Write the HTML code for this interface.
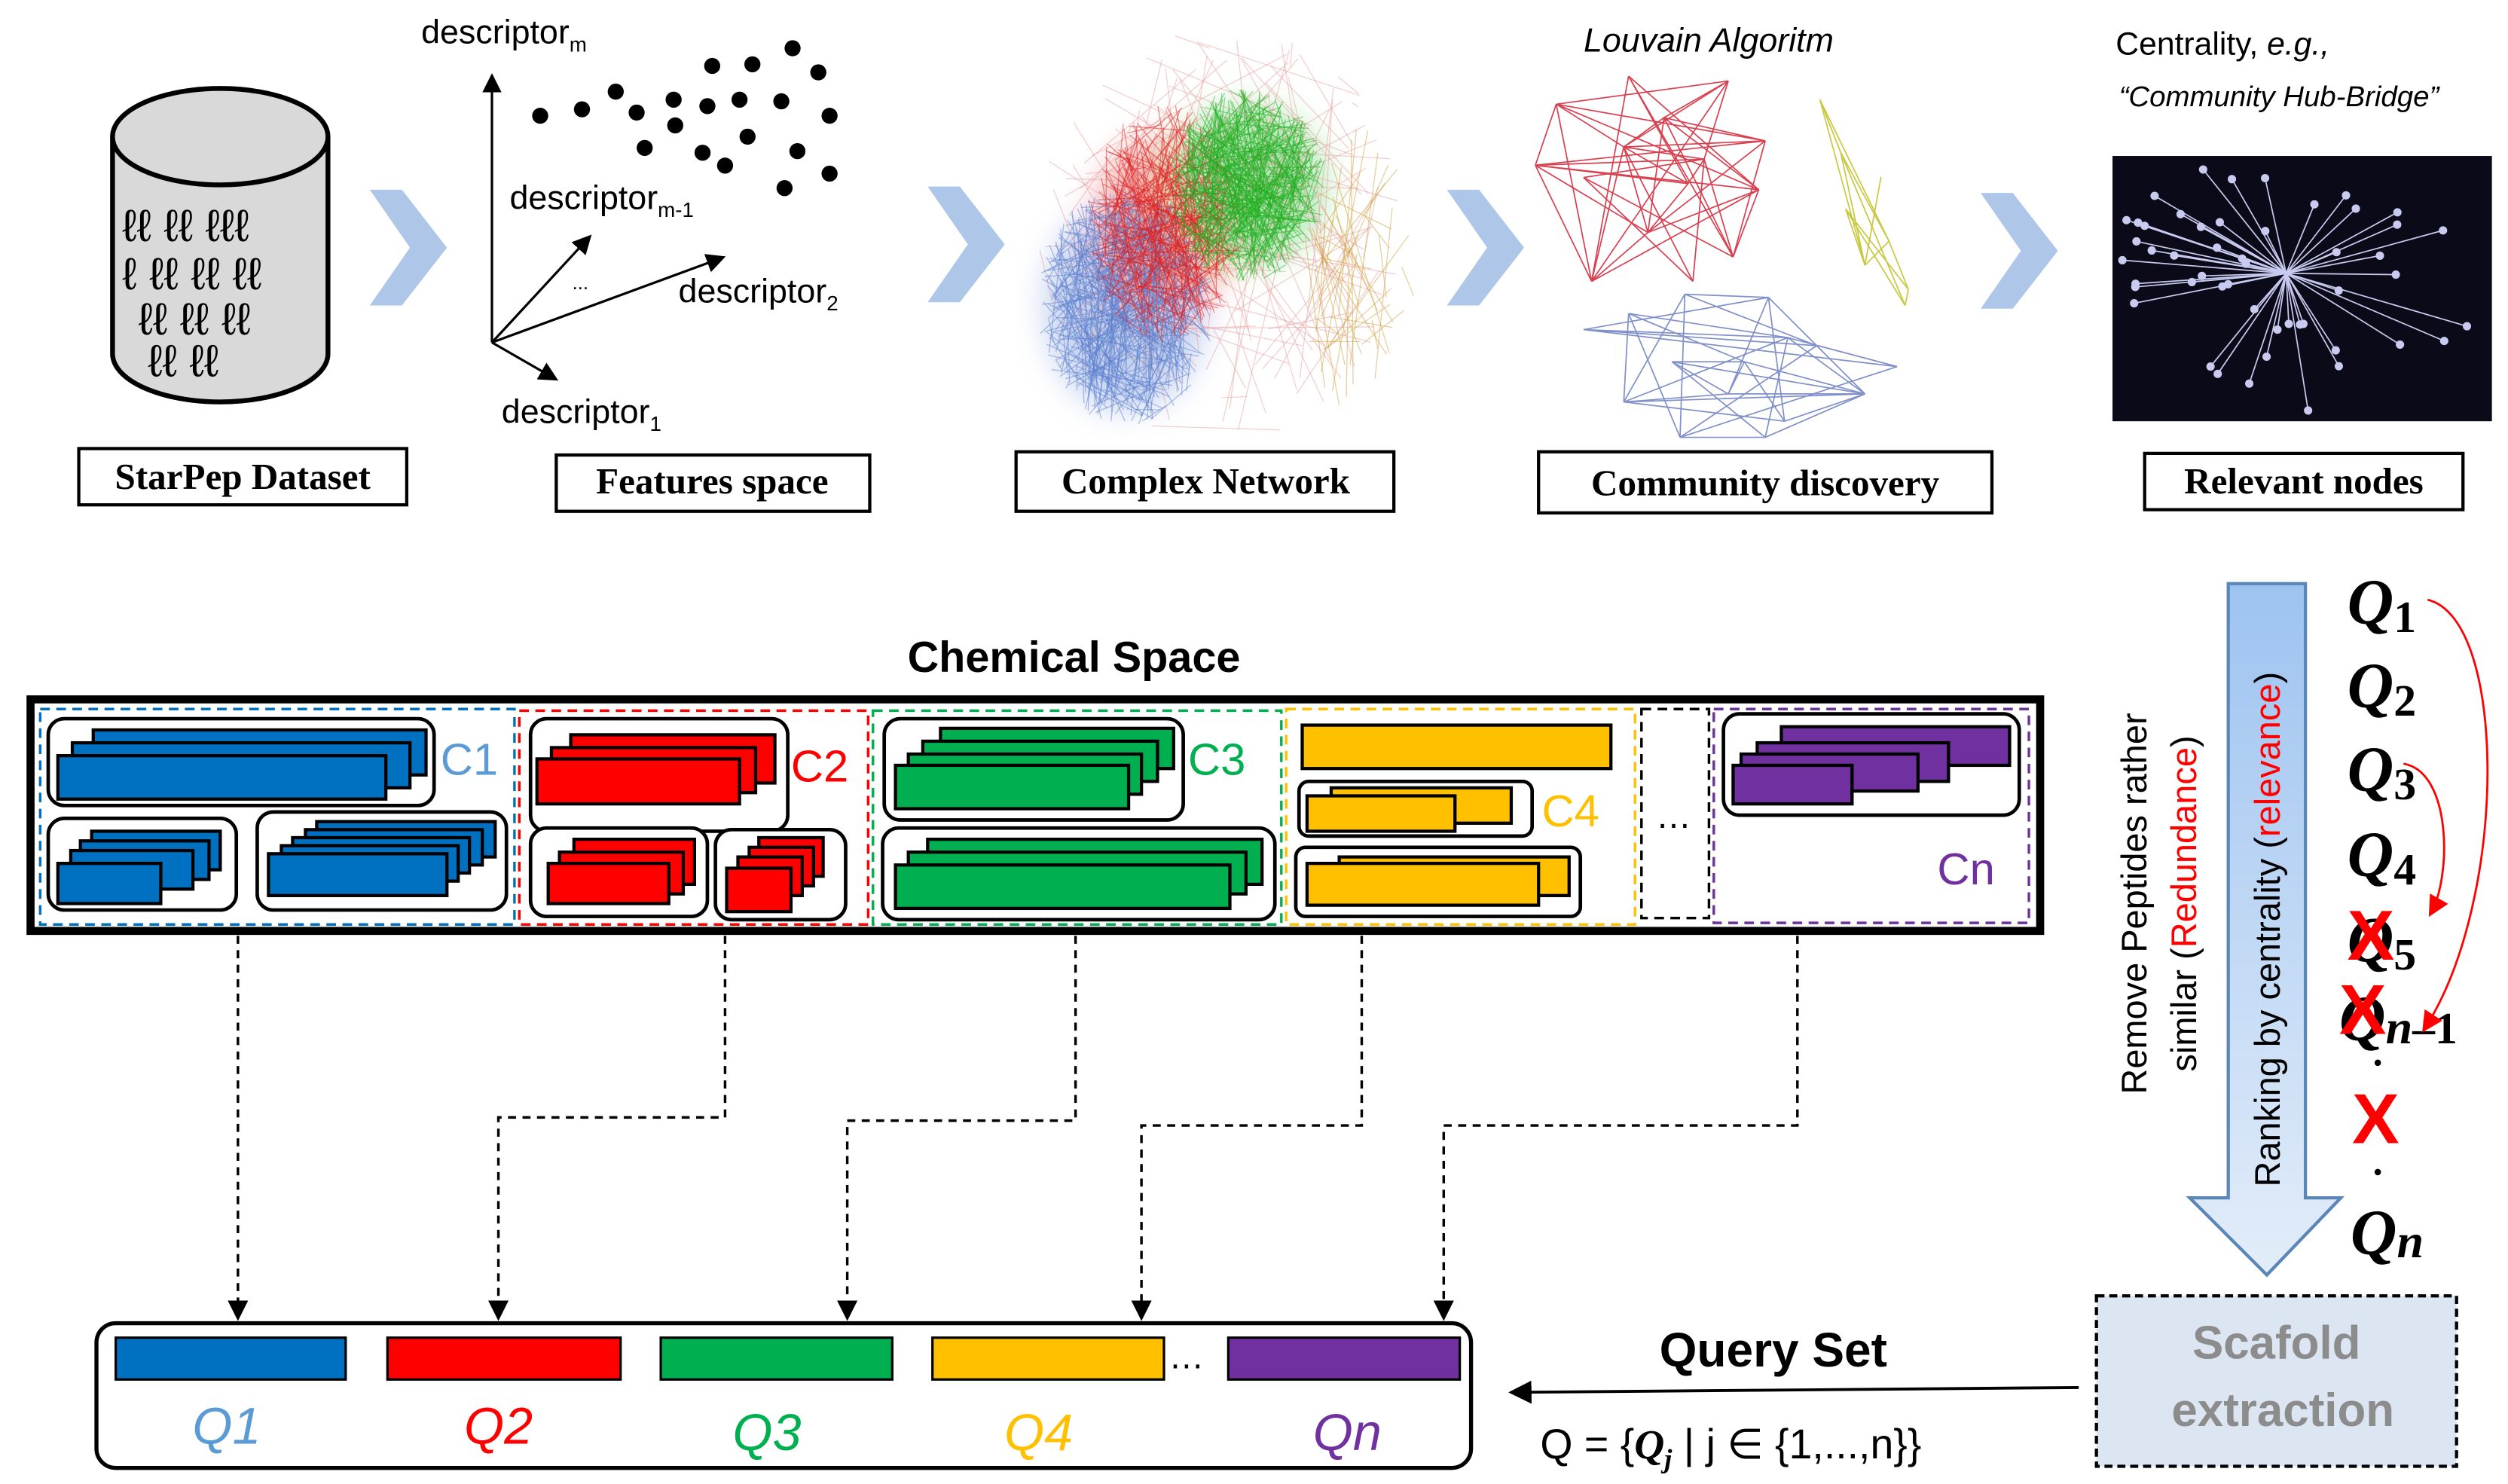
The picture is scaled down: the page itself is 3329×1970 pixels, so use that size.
<!DOCTYPE html>
<html><head><meta charset="utf-8"><style>
html,body{margin:0;padding:0;background:#fff}
svg{display:block}
text{font-family:"Liberation Sans",sans-serif}
text.lbl{font-family:"Liberation Serif",serif;font-weight:bold;font-size:23px}
.q text{font-family:"Liberation Serif",serif;font-weight:bold;font-style:italic;font-size:40px}
</style></head><body>
<svg id="s" width="3329" height="1970" viewBox="0 0 1560 923" preserveAspectRatio="none" xmlns="http://www.w3.org/2000/svg">
<defs>
<linearGradient id="ag" x1="0" y1="0" x2="0" y2="1"><stop offset="0" stop-color="#9dc3f0"/><stop offset="1" stop-color="#e3edf9"/></linearGradient>
<marker id="ah" markerWidth="8" markerHeight="8" refX="7" refY="4" orient="auto"><path d="M0,0 L8,4 L0,8 z" fill="#000"/></marker>
<marker id="rh" markerWidth="10" markerHeight="10" refX="8" refY="5" orient="auto"><path d="M0,0 L10,5 L0,10 z" fill="#f00"/></marker>
<filter id="bl"><feGaussianBlur stdDeviation="10"/></filter>
</defs>

<path d="M70,85 L70,220 A67,30 0 0 0 204,220 L204,85" fill="#d9d9d9" stroke="#000" stroke-width="3"/>
<ellipse cx="137" cy="85" rx="67" ry="30" fill="#d9d9d9" stroke="#000" stroke-width="3"/>
<text x="76" y="150" font-size="28" font-family="Liberation Serif" fill="#000">ℓℓ ℓℓ ℓℓℓ</text>
<text x="76" y="180" font-size="28" font-family="Liberation Serif">ℓ ℓℓ ℓℓ ℓℓ</text>
<text x="86" y="208" font-size="28" font-family="Liberation Serif">ℓℓ ℓℓ ℓℓ</text>
<text x="92" y="234" font-size="28" font-family="Liberation Serif">ℓℓ ℓℓ</text>

<g fill="#aec7e8">
<path d="M230,118 L250,118 L278,154 L250,190 L230,190 L255,154z"/>
<path d="M577,116 L597,116 L625,152 L597,188 L577,188 L602,152z"/>
<path d="M900,118 L920,118 L948,154 L920,190 L900,190 L925,154z"/>
<path d="M1232,120 L1252,120 L1280,156 L1252,192 L1232,192 L1257,156z"/>
</g>

<g stroke="#000" stroke-width="1.5" fill="none">
<line x1="306" y1="213" x2="306" y2="47" marker-end="url(#ah)"/>
<line x1="306" y1="213" x2="450" y2="160" marker-end="url(#ah)"/>
<line x1="306" y1="213" x2="367" y2="147" marker-end="url(#ah)"/>
<line x1="306" y1="213" x2="346" y2="236" marker-end="url(#ah)"/>
</g>
<g fill="#000">
<circle cx="336" cy="72" r="5"/><circle cx="362" cy="68" r="5"/><circle cx="383" cy="57" r="5"/><circle cx="396" cy="70" r="5"/><circle cx="419" cy="62" r="5"/><circle cx="440" cy="66" r="5"/><circle cx="443" cy="41" r="5"/><circle cx="468" cy="40" r="5"/><circle cx="493" cy="30" r="5"/><circle cx="509" cy="45" r="5"/><circle cx="460" cy="62" r="5"/><circle cx="486" cy="63" r="5"/><circle cx="516" cy="72" r="5"/><circle cx="420" cy="78" r="5"/><circle cx="437" cy="95" r="5"/><circle cx="465" cy="85" r="5"/><circle cx="401" cy="92" r="5"/><circle cx="451" cy="103" r="5"/><circle cx="496" cy="94" r="5"/><circle cx="516" cy="108" r="5"/><circle cx="488" cy="117" r="5"/>
</g>
<text x="262" y="27" font-size="21">descriptor<tspan font-size="13" dy="5">m</tspan></text>
<text x="317" y="130" font-size="21">descriptor<tspan font-size="13" dy="5">m-1</tspan></text>
<text x="422" y="188" font-size="21">descriptor<tspan font-size="13" dy="5">2</tspan></text>
<text x="312" y="263" font-size="21">descriptor<tspan font-size="13" dy="5">1</tspan></text>
<text x="356" y="180" font-size="12">...</text>

<g filter="url(#bl)" opacity="0.35">
<ellipse cx="700" cy="190" rx="50" ry="65" fill="#5b7fd0"/>
<ellipse cx="725" cy="140" rx="45" ry="55" fill="#e03030"/>
<ellipse cx="775" cy="115" rx="50" ry="50" fill="#30c030"/>
</g>
<g id="net" stroke-width="0.6"></g>

<text x="985" y="32" font-size="21" font-style="italic">Louvain Algoritm</text>
<g id="lou" stroke-width="0.8" fill="none"></g>

<text x="1316" y="34" font-size="20">Centrality, <tspan font-style="italic">e.g.,</tspan></text>
<text x="1318" y="66" font-size="18" font-style="italic">“Community Hub-Bridge”</text>
<rect x="1314" y="97" width="236" height="165" fill="#0a0a18"/>
<g id="star" stroke="#c8cbef" stroke-width="0.8"></g>

<g fill="#fff" stroke="#000" stroke-width="2">
<rect x="49" y="279" width="204" height="35"/><rect x="346" y="283" width="195" height="35"/><rect x="632" y="281" width="235" height="37"/><rect x="957" y="281" width="282" height="38"/><rect x="1334" y="282" width="198" height="35"/>
</g>
<text class="lbl" x="151" y="304" text-anchor="middle">StarPep Dataset</text>
<text class="lbl" x="443" y="307" text-anchor="middle">Features space</text>
<text class="lbl" x="750" y="307" text-anchor="middle">Complex Network</text>
<text class="lbl" x="1098" y="308" text-anchor="middle">Community discovery</text>
<text class="lbl" x="1433" y="307" text-anchor="middle">Relevant nodes</text>

<text x="668" y="418" font-size="27" font-weight="bold" text-anchor="middle">Chemical Space</text>
<rect x="19" y="435" width="1250" height="144" fill="#fff" stroke="#000" stroke-width="5"/>
<g fill="none" stroke-width="1.6" stroke-dasharray="6,4">
<rect x="25" y="441" width="295" height="134" stroke="#0070c0"/>
<rect x="323" y="442" width="217" height="133" stroke="#f00"/>
<rect x="543" y="442" width="254" height="133" stroke="#00b050"/>
<rect x="800" y="441" width="217" height="134" stroke="#ffc000"/>
<rect x="1021" y="441" width="42" height="130" stroke="#000"/>
<rect x="1066" y="441" width="196" height="133" stroke="#7030a0"/>
</g>
<text x="1030" y="515" font-size="22">…</text>
<g fill="#fff" stroke="#000" stroke-width="2.2">
<rect x="30" y="447" width="240" height="54" rx="10"/>
<rect x="30" y="509" width="117" height="57" rx="10"/>
<rect x="160" y="505" width="155" height="61" rx="10"/>
<rect x="330" y="447" width="160" height="70" rx="10"/>
<rect x="330" y="515" width="110" height="55" rx="10"/>
<rect x="445" y="516" width="81" height="56" rx="10"/>
<rect x="550" y="447" width="186" height="63" rx="10"/>
<rect x="549" y="515" width="244" height="57" rx="10"/>
<rect x="808" y="486" width="145" height="34" rx="6"/>
<rect x="806" y="527" width="177" height="43" rx="6"/>
<rect x="1072" y="444" width="184" height="63" rx="10"/>
</g>
<g stroke="#000" stroke-width="2">
<g fill="#0070c0">
<rect x="58" y="454" width="207" height="28"/><rect x="45" y="462" width="210" height="28"/><rect x="36" y="470" width="204" height="27"/>
<rect x="57" y="517" width="80" height="24"/><rect x="50" y="523" width="80" height="24"/><rect x="44" y="529" width="76" height="24"/><rect x="36" y="537" width="64" height="25"/>
<rect x="197" y="511" width="111" height="22"/><rect x="190" y="516" width="110" height="22"/><rect x="182" y="521" width="110" height="22"/><rect x="175" y="526" width="110" height="22"/><rect x="167" y="531" width="111" height="26"/>
</g>
<g fill="#f00">
<rect x="355" y="457" width="127" height="30"/><rect x="343" y="465" width="127" height="28"/><rect x="334" y="472" width="126" height="28"/>
<rect x="357" y="522" width="75" height="28"/><rect x="348" y="530" width="77" height="26"/><rect x="341" y="537" width="75" height="25"/>
<rect x="472" y="521" width="40" height="24"/><rect x="466" y="527" width="40" height="24"/><rect x="459" y="533" width="40" height="24"/><rect x="452" y="540" width="40" height="27"/>
</g>
<g fill="#00b050">
<rect x="585" y="453" width="145" height="25"/><rect x="574" y="461" width="146" height="25"/><rect x="565" y="469" width="145" height="25"/><rect x="557" y="476" width="145" height="27"/>
<rect x="577" y="522" width="208" height="28"/><rect x="565" y="530" width="210" height="26"/><rect x="557" y="538" width="208" height="27"/>
</g>
<g fill="#ffc000">
<rect x="810" y="451" width="192" height="27"/>
<rect x="828" y="490" width="112" height="22"/><rect x="813" y="495" width="92" height="22"/>
<rect x="833" y="533" width="143" height="24"/><rect x="813" y="537" width="144" height="26"/>
</g>
<g fill="#7030a0">
<rect x="1108" y="452" width="142" height="24"/><rect x="1093" y="462" width="119" height="24"/><rect x="1083" y="469" width="110" height="23"/><rect x="1078" y="476" width="74" height="24"/>
</g>
</g>
<text x="274" y="482" font-size="28" fill="#5b9bd5">C1</text>
<text x="492" y="486" font-size="28" fill="#f00">C2</text>
<text x="739" y="482" font-size="28" fill="#00b050">C3</text>
<text x="959" y="514" font-size="28" fill="#ffc000">C4</text>
<text x="1205" y="550" font-size="28" fill="#7030a0">Cn</text>

<g fill="none" stroke="#000" stroke-width="1.6" stroke-dasharray="5,4">
<path d="M148,582 L148,820" marker-end="url(#ah)"/>
<path d="M451,582 L451,695 L310,695 L310,820" marker-end="url(#ah)"/>
<path d="M669,582 L669,697 L527,697 L527,820" marker-end="url(#ah)"/>
<path d="M847,582 L847,700 L710,700 L710,820" marker-end="url(#ah)"/>
<path d="M1118,582 L1118,700 L898,700 L898,820" marker-end="url(#ah)"/>
</g>

<rect x="60" y="823" width="855" height="90" rx="12" fill="#fff" stroke="#000" stroke-width="2.5"/>
<g stroke="#000" stroke-width="1.5">
<rect x="72" y="832" width="143" height="26" fill="#0070c0"/>
<rect x="241" y="832" width="145" height="26" fill="#f00"/>
<rect x="411" y="832" width="144" height="26" fill="#00b050"/>
<rect x="580" y="832" width="144" height="26" fill="#ffc000"/>
<rect x="764" y="832" width="144" height="26" fill="#7030a0"/>
</g>
<text x="727" y="851" font-size="22">…</text>
<g font-size="32" font-style="italic" text-anchor="middle">
<text x="141" y="898" fill="#5b9bd5">Q1</text>
<text x="310" y="898" fill="#f00">Q2</text>
<text x="477" y="902" fill="#00b050">Q3</text>
<text x="646" y="902" fill="#ffc000">Q4</text>
<text x="838" y="902" fill="#7030a0">Qn</text>
</g>
<text x="1103" y="850" font-size="30" font-weight="bold" text-anchor="middle">Query Set</text>
<line x1="1293" y1="863" x2="940" y2="866" stroke="#000" stroke-width="1.8" marker-end="url(#ah)"/>
<text x="958" y="907" font-size="26">Q = {<tspan font-family="Liberation Serif" font-weight="bold" font-style="italic">Q<tspan font-size="17" dy="6">j</tspan></tspan><tspan dy="-6"> | j ∈ {1,...,n}}</tspan></text>

<rect x="1304" y="806" width="224" height="106" fill="#dce6f2" stroke="#000" stroke-width="2" stroke-dasharray="5,3"/>
<text x="1416" y="845" font-size="29" font-weight="bold" fill="#8c8c8c" text-anchor="middle">Scafold</text>
<text x="1420" y="887" font-size="29" font-weight="bold" fill="#8c8c8c" text-anchor="middle">extraction</text>

<path d="M1386,363 L1434,363 L1434,745 L1456,745 L1410,793 L1362,745 L1386,745z" fill="url(#ag)" stroke="#5a86b8" stroke-width="2"/>
<text transform="translate(1418,578) rotate(-90)" font-size="22" text-anchor="middle">Ranking by centrality (<tspan fill="#f00">relevance</tspan>)</text>
<text transform="translate(1335,562) rotate(-90)" font-size="22" text-anchor="middle">Remove Peptides rather</text>
<text transform="translate(1366,562) rotate(-90)" font-size="22" text-anchor="middle">similar (<tspan fill="#f00">Redundance</tspan>)</text>

<g class="q">
<text x="1460" y="388">Q<tspan font-size="28" dy="5" font-style="normal">1</tspan></text>
<text x="1460" y="440">Q<tspan font-size="28" dy="5" font-style="normal">2</tspan></text>
<text x="1460" y="492">Q<tspan font-size="28" dy="5" font-style="normal">3</tspan></text>
<text x="1460" y="545">Q<tspan font-size="28" dy="5" font-style="normal">4</tspan></text>
<text x="1460" y="598">Q<tspan font-size="28" dy="5" font-style="normal">5</tspan></text>
<text x="1455" y="647">Q<tspan font-size="30" dy="2">n</tspan><tspan font-size="28" font-style="normal">–1</tspan></text>
<text x="1462" y="780">Q<tspan font-size="30" dy="2">n</tspan></text>
</g>
<circle cx="1479" cy="661" r="2" fill="#000"/><circle cx="1479" cy="729" r="2" fill="#000"/>
<g font-size="44" font-weight="bold" fill="#f00" font-family="Liberation Sans">
<text x="1460" y="597">X</text><text x="1455" y="643">X</text><text x="1463" y="711">X</text>
</g>
<g fill="none" stroke="#f00" stroke-width="1.3">
<path d="M1510,373 C1560,385 1560,560 1508,640" marker-end="url(#rh)"/>
<path d="M1495,475 C1525,480 1525,545 1512,568" marker-end="url(#rh)"/>
</g>
</svg>
<script>
(function(){
var ns="http://www.w3.org/2000/svg";
function L(g,x1,y1,x2,y2,c,o){var l=document.createElementNS(ns,"line");l.setAttribute("x1",x1);l.setAttribute("y1",y1);l.setAttribute("x2",x2);l.setAttribute("y2",y2);l.setAttribute("stroke",c);if(o)l.setAttribute("stroke-opacity",o);g.appendChild(l);}
var seed=7;function r(){seed=(seed*16807)%2147483647;return seed/2147483647;}
var net=document.getElementById("net");
function cloud(cx,cy,rx,ry,n,c,o){for(var i=0;i<n;i++){var a=r()*6.283,b=r()*6.283,d1=Math.sqrt(r()),d2=Math.sqrt(r());L(net,cx+Math.cos(a)*rx*d1,cy+Math.sin(a)*ry*d1,cx+Math.cos(b)*rx*d2,cy+Math.sin(b)*ry*d2,c,o);}}
cloud(760,145,115,130,120,"#e8a0a0",0.5);
cloud(700,190,55,75,350,"#5b7fd0",0.5);
cloud(725,140,50,75,250,"#e02020",0.5);
cloud(775,115,50,60,350,"#20b020",0.5);
cloud(845,170,35,90,40,"#d0a040",0.5);
var lou=document.getElementById("lou");
function grp(pts,c,p){for(var i=0;i<pts.length;i++)for(var j=i+1;j<pts.length;j++)if(r()<p)L(lou,pts[i][0],pts[i][1],pts[j][0],pts[j][1],c);}
grp([[1013,82],[1075,86],[968,105],[1035,116],[1098,135],[1010,140],[1060,150],[985,165],[1050,170],[1094,175],[1025,210],[990,250],[1053,250],[955,155],[1078,230]].map(function(p){return [p[0],p[1]*0.76-15];}),"#d84050",0.4);
grp([[1132,62],[1145,95],[1170,110],[1148,130],[1175,150],[1160,165],[1187,180],[1185,190]],"#c8c840",0.5);
grp([[985,205],[1013,195],[1048,183],[1100,185],[1112,210],[1040,225],[1085,225],[1130,215],[1180,228],[1010,250],[1075,245],[1110,262],[1160,245],[1045,272],[1098,272]],"#8090c8",0.35);
var st=document.getElementById("star");var cx=1422,cy=170;
for(var i=0;i<55;i++){var a=r()*6.283,d=20+r()*75;var x=cx+Math.cos(a)*d*1.3,y=cy+Math.sin(a)*d;if(x<1318||x>1546||y<100||y>258)continue;L(st,cx,cy,x,y,"#c8cbef");var c=document.createElementNS(ns,"circle");c.setAttribute("cx",x);c.setAttribute("cy",y);c.setAttribute("r",2.2);c.setAttribute("fill","#c8cbef");st.appendChild(c);}
})();
</script>
</body></html>
